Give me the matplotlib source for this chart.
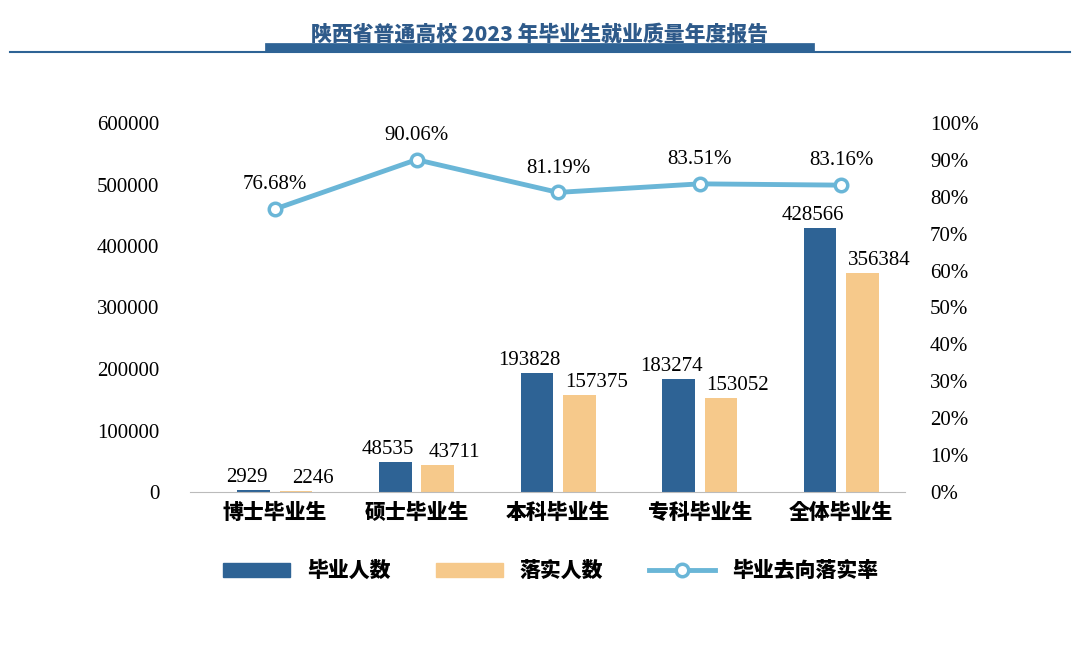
import matplotlib.pyplot as plt
import numpy as np
from matplotlib.lines import Line2D
from matplotlib.patches import Patch
from matplotlib import font_manager as fm

categories = ["博士毕业生", "硕士毕业生", "本科毕业生", "专科毕业生", "全体毕业生"]
graduates = [2929, 48535, 193828, 183274, 428566]
placed = [2246, 43711, 157375, 153052, 356384]
rate = [76.68, 90.06, 81.19, 83.51, 83.16]
title = "陕西省普通高校 2023 年毕业生就业质量年度报告"

# find a CJK font file directly
cjk_files = [f for f in fm.findSystemFonts() if "CJK" in f or "cjk" in f.lower()]
cjk_files.sort(key=lambda f: (0 if "SC" in f or "Sans" in f else 1, f))
if cjk_files:
    def cjk(size, weight="normal"):
        return fm.FontProperties(fname=cjk_files[0], size=size, weight=weight)
else:
    def cjk(size, weight="normal"):
        return fm.FontProperties(family="Noto Sans CJK SC", size=size, weight=weight)

num = "Liberation Serif"
c_blue = "#2e6395"
c_orange = "#f6c98b"
c_line = "#6ab6d7"

fig = plt.figure(figsize=(10.8, 6.64), dpi=100)
ax = fig.add_axes([190/1080, 1-492/664, (905-190)/1080, (492-123)/664])
ax2 = ax.twinx()

x = np.arange(len(categories))
w = 0.23
off = 0.15
ax.bar(x - off, graduates, w, color=c_blue)
ax.bar(x + off, placed, w, color=c_orange)
for xi, v in zip(x, graduates):
    ax.text(xi - off - 0.05, v + 5000, str(v), ha="center", va="bottom", fontsize=15, family=num)
for xi, v in zip(x, placed):
    ax.text(xi + off + 0.12, v + 5000, str(v), ha="center", va="bottom", fontsize=15, family=num)

ax2.plot(x, rate, color=c_line, lw=3.5, marker="o", ms=9, mfc="white", mec=c_line, mew=2.5)
for xi, r in zip(x, rate):
    ax2.text(xi, r + 4, f"{r:.2f}%", ha="center", va="bottom", fontsize=15, family=num)

ax.set_xlim(-0.6, 4.45)
ax.set_ylim(0, 600000)
ax.set_yticks(range(0, 600001, 100000))
ax.set_yticklabels([str(v) for v in range(0, 600001, 100000)], family=num, fontsize=15)
ax2.set_ylim(0, 100)
ax2.set_yticks(range(0, 101, 10))
ax2.set_yticklabels([f"{v}%" for v in range(0, 101, 10)], family=num, fontsize=15)
ax.set_xticks(x)
ax.set_xticklabels(categories)
for lab in ax.get_xticklabels():
    lab.set_fontproperties(cjk(15))
for a in (ax, ax2):
    for s in a.spines.values():
        s.set_visible(False)
    a.tick_params(length=0)
ax.spines["bottom"].set_visible(True)
ax.spines["bottom"].set_color("#bbbbbb")
ax.tick_params(axis="y", pad=22)
ax2.tick_params(axis="y", pad=18)
ax.tick_params(axis="x", pad=8)

handles = [Patch(color=c_blue), Patch(color=c_orange),
           Line2D([], [], color=c_line, lw=3.5, marker="o", ms=9, mfc="white", mec=c_line, mew=2.5)]
fig.legend(handles, ["毕业人数", "落实人数", "毕业去向落实率"], loc="center", bbox_to_anchor=(0.51, 1-571/664),
           ncol=3, frameon=False, prop=cjk(15), handlelength=3.2, columnspacing=2.2)

# header
fig.add_artist(Line2D([10/1080, 1070/1080], [1-52/664]*2, color="#2e6395", lw=1.5))
fig.add_artist(Line2D([270/1080, 810/1080], [1-48/664]*2, color="#2e6395", lw=7))
fig.text(0.5, 1-34/664, title, ha="center", va="center", color="#2e5a8a",
         fontproperties=cjk(15, "bold"))

fig.savefig("out.png", dpi=100)
